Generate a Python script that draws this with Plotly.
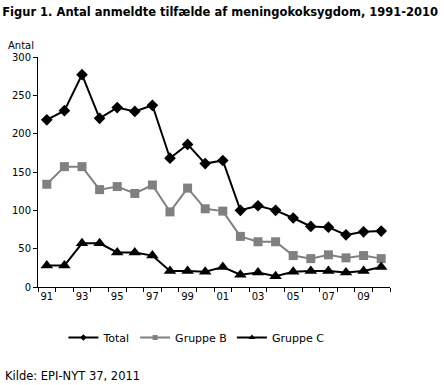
import plotly.graph_objects as go

years = [str(y)[2:] for y in range(1991, 2011)]
total = [218, 230, 277, 220, 234, 229, 237, 168, 186, 161, 165, 100, 106, 100, 90, 79, 78, 68, 72, 73]
gruppe_b = [134, 157, 157, 127, 131, 122, 133, 98, 129, 102, 99, 66, 59, 59, 41, 37, 42, 38, 41, 37]
gruppe_c = [28, 28, 57, 57, 45, 45, 41, 21, 21, 20, 26, 16, 19, 14, 20, 21, 21, 19, 21, 26]
tick_labels = years[::2]

names = ["Total", "Gruppe B", "Gruppe C"]
series = [total, gruppe_b, gruppe_c]
colors = ["black", "#808080", "black"]
symbols = ["diamond", "square", "triangle-up"]
sizes = [9, 9, 11]
legend_sizes = [5, 5, 6]

xs = list(range(len(years)))
font = "DejaVu Sans, Verdana, sans-serif"

fig = go.Figure()
for name, ys, c, s, sz in zip(names, series, colors, symbols, sizes):
    fig.add_trace(go.Scatter(x=xs, y=ys, name=name, mode="lines+markers", showlegend=False,
                             line=dict(color=c, width=2),
                             marker=dict(symbol=s, size=sz, color=c)))
# legend-only entries with small markers (as in the reference legend)
for name, c, s, sz in zip(names, colors, symbols, legend_sizes):
    fig.add_trace(go.Scatter(x=[None], y=[None], name=name, mode="lines+markers",
                             line=dict(color=c, width=2),
                             marker=dict(symbol=s, size=sz, color=c)))

fig.update_layout(
    width=444, height=385,
    margin=dict(l=36, r=54, t=57, b=98),
    paper_bgcolor="white", plot_bgcolor="white",
    font=dict(family=font, size=10, color="black"),
    showlegend=True,
    legend=dict(orientation="h", x=0.45, xanchor="center", y=-0.22, yanchor="middle",
                font=dict(size=11), itemwidth=30, traceorder="normal"),
    title=dict(text="<b>Figur 1. Antal anmeldte tilfælde af meningokoksygdom, 1991-2010</b>",
               x=0.005, xanchor="left", y=0.97, yanchor="middle",
               font=dict(family=font, size=11.5, color="black")),
    annotations=[
        dict(text="Antal", xref="paper", yref="paper", x=-0.09, y=1.048,
             xanchor="left", yanchor="middle", showarrow=False, font=dict(size=10)),
        dict(text="Kilde: EPI-NYT 37, 2011", xref="paper", yref="paper", x=-0.1, y=-0.388,
             xanchor="left", yanchor="middle", showarrow=False, font=dict(size=11.5)),
    ],
)
fig.update_xaxes(range=[-0.5, len(years) - 0.5], tickmode="array", tickvals=xs[::2],
                 ticktext=tick_labels, ticks="", showgrid=False, zeroline=False,
                 showline=True, linecolor="black", linewidth=1,
                 minor=dict(ticks="outside", tick0=-0.5, dtick=1, ticklen=4,
                            tickcolor="black", showgrid=False))
fig.update_yaxes(range=[0, 300], tickvals=[0, 50, 100, 150, 200, 250, 300],
                 ticks="outside", ticklen=4, tickcolor="black", showgrid=False,
                 zeroline=False, showline=True, linecolor="black", linewidth=1)

fig.write_html("out.html", config={"displayModeBar": False},
               post_script="document.body.style.margin='0';")
